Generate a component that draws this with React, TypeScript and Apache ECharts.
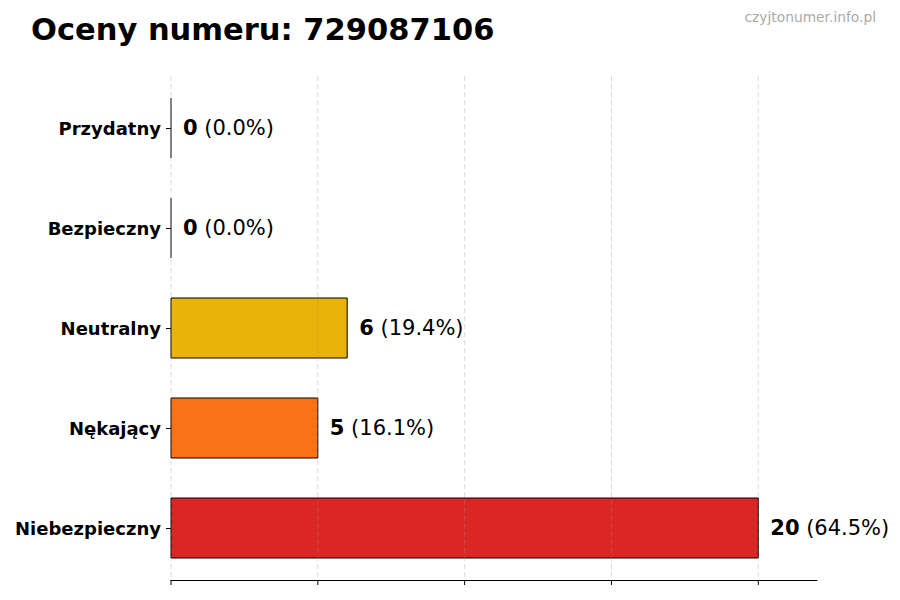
import { useEffect, useRef } from 'react'
import * as echarts from 'echarts'

// dane wykresu
const categories = ['Przydatny', 'Bezpieczny', 'Neutralny', 'Nękający', 'Niebezpieczny']
const counts = [0, 0, 6, 5, 20]
const barColors = ['#16a34a', '#3b82f6', '#eab308', '#f97316', '#dc2626']
const gridTicks = [0, 5, 10, 15, 20]
const titleText = 'Oceny numeru: 729087106'
const watermark = 'czyjtonumer.info.pl'

const FONT = 'DejaVu Sans'

const App: React.FC = () => {
  const chartContainerRef = useRef<HTMLDivElement | null>(null)

  useEffect(() => {
    if (chartContainerRef.current === null) return
    const chart = echarts.init(chartContainerRef.current, undefined, { renderer: 'svg' })
    const total = counts.reduce((a, b) => a + b, 0)

    const option = {
      animation: false,
      title: {
        text: titleText,
        left: 31,
        top: 14,
        padding: 0,
        textStyle: { fontFamily: FONT, fontSize: 30.5, fontWeight: 'bold', color: '#000' }
      },
      graphic: [
        {
          type: 'text',
          right: 24,
          top: 10,
          style: { text: watermark, fontFamily: FONT, fontSize: 13.8, fill: '#aaa' }
        }
      ],
      grid: { left: 171, right: 83, top: 78, bottom: 22 },
      xAxis: {
        type: 'value',
        min: 0,
        max: 22,
        offset: 2,
        axisLine: { show: true, lineStyle: { color: '#000', width: 1 } },
        axisTick: { show: false },
        axisLabel: { show: false },
        splitLine: { show: false }
      },
      yAxis: {
        type: 'category',
        data: categories,
        inverse: true,
        axisLine: { show: false },
        axisTick: { show: true, alignWithLabel: true, length: 5, lineStyle: { color: '#000' } },
        axisLabel: { fontFamily: FONT, fontSize: 18, fontWeight: 'bold', color: '#000', margin: 10 }
      },
      series: [
        {
          // słupki z etykietami
          type: 'custom',
          clip: false,
          z: 2,
          data: counts.map((v, i) => [v, i]),
          renderItem: (params: any, api: any) => {
            const v = api.value(0)
            const i = api.value(1)
            const start = api.coord([0, i])
            const end = api.coord([v, i])
            const h = api.size([0, 1])[1] * 0.6
            const pct = total > 0 ? ((v / total) * 100).toFixed(1) : '0.0'
            const children: any[] = []
            if (v > 0) {
              children.push({
                type: 'rect',
                shape: { x: start[0], y: start[1] - h / 2, width: end[0] - start[0], height: h },
                style: { fill: barColors[params.dataIndex], stroke: '#000', lineWidth: 1 }
              })
            } else {
              children.push({
                type: 'line',
                shape: { x1: start[0], y1: start[1] - h / 2, x2: start[0], y2: start[1] + h / 2 },
                style: { stroke: '#000', lineWidth: 1 }
              })
            }
            children.push({
              type: 'text',
              x: end[0] + 12,
              y: end[1],
              style: {
                text: `{b|${v}}{n| (${pct}%)}`,
                verticalAlign: 'middle',
                align: 'left',
                rich: {
                  b: { fontFamily: FONT, fontSize: 21, fontWeight: 'bold', fill: '#000' },
                  n: { fontFamily: FONT, fontSize: 21, fill: '#000' }
                }
              }
            })
            return { type: 'group', children }
          }
        },
        {
          // linie siatki i znaczniki osi X
          type: 'custom',
          clip: false,
          z: 3,
          data: gridTicks.map((t) => [t]),
          renderItem: (params: any, api: any) => {
            const t = api.value(0)
            const cs = params.coordSys
            const x = api.coord([t, 0])[0]
            const bottom = cs.y + cs.height + 2
            return {
              type: 'group',
              children: [
                {
                  type: 'line',
                  shape: { x1: x, y1: cs.y - 2, x2: x, y2: bottom },
                  style: { stroke: 'rgba(150,150,150,0.35)', lineWidth: 1, lineDash: [5, 3] }
                },
                {
                  type: 'line',
                  shape: { x1: x, y1: bottom, x2: x, y2: bottom + 5 },
                  style: { stroke: '#000', lineWidth: 1 }
                }
              ]
            }
          }
        }
      ]
    }

    chart.setOption(option)
    return () => {
      chart.dispose()
    }
  }, [])

  return (
    <div ref={chartContainerRef} style={{ width: 900, height: 600, margin: -8 }}></div>
  )
}

export default App
